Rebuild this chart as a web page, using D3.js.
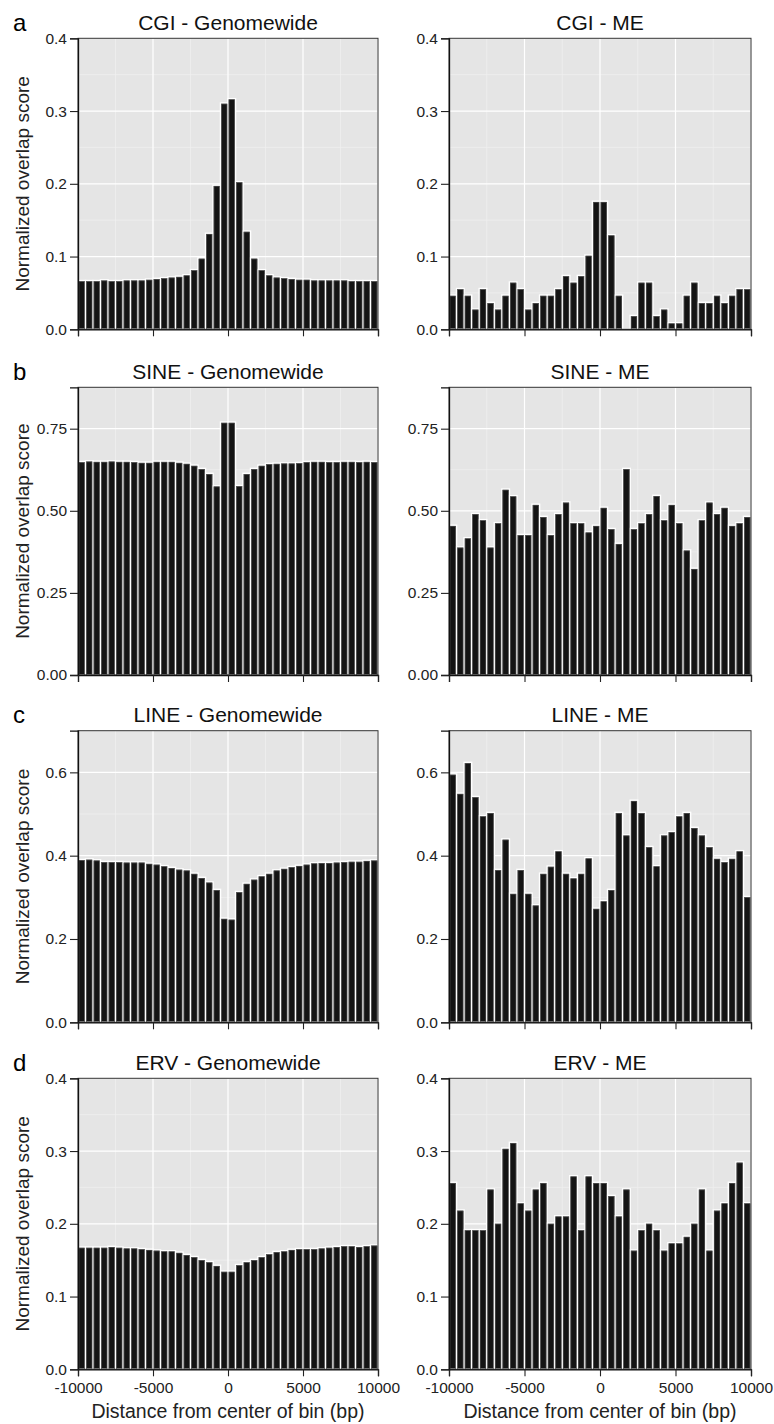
<!DOCTYPE html>
<html>
<head>
<meta charset="utf-8">
<script src="https://cdn.jsdelivr.net/npm/d3@7"></script>
<style>
  body{margin:0;background:#fff}
  svg{display:block}
  text{font-family:"Liberation Sans",Arial,Helvetica,sans-serif}
</style>
</head>
<body>
<svg id="fig" width="774" height="1424"></svg>
<script>
/* ---------- data ---------- */
const binStart=[-10000,-9500,-9000,-8500,-8000,-7500,-7000,-6500,-6000,-5500,
                -5000,-4500,-4000,-3500,-3000,-2500,-2000,-1500,-1000,-500,
                0,500,1000,1500,2000,2500,3000,3500,4000,4500,
                5000,5500,6000,6500,7000,7500,8000,8500,9000,9500];
const binWidth=500;
const xTicks=[-10000,-5000,0,5000,10000];

const cgiGenome=[0.067,0.067,0.067,0.068,0.067,0.067,0.068,0.068,0.068,0.069,
                 0.070,0.071,0.072,0.073,0.075,0.082,0.098,0.132,0.198,0.311,
                 0.317,0.203,0.135,0.098,0.082,0.075,0.072,0.071,0.070,0.069,
                 0.069,0.068,0.068,0.068,0.068,0.068,0.067,0.067,0.067,0.067];
const cgiME=[0.047,0.056,0.047,0.028,0.056,0.037,0.028,0.047,0.065,0.056,
             0.028,0.037,0.047,0.047,0.056,0.074,0.065,0.074,0.102,0.176,
             0.176,0.130,0.047,0.000,0.019,0.065,0.065,0.019,0.028,0.009,
             0.009,0.047,0.065,0.037,0.037,0.047,0.037,0.047,0.056,0.056];

const sineGenome=[0.650,0.652,0.651,0.651,0.652,0.651,0.651,0.650,0.648,0.648,
                  0.651,0.651,0.651,0.648,0.645,0.639,0.629,0.614,0.576,0.770,
                  0.770,0.577,0.614,0.629,0.639,0.644,0.645,0.646,0.646,0.647,
                  0.650,0.651,0.651,0.650,0.650,0.651,0.651,0.650,0.651,0.650];
const sineME=[0.456,0.390,0.418,0.492,0.473,0.390,0.464,0.566,0.546,0.428,
              0.428,0.520,0.483,0.428,0.492,0.527,0.464,0.464,0.436,0.456,
              0.511,0.446,0.401,0.629,0.446,0.464,0.492,0.547,0.473,0.520,
              0.464,0.381,0.325,0.473,0.527,0.492,0.511,0.456,0.464,0.483];

const lineGenome=[0.391,0.392,0.390,0.386,0.386,0.386,0.385,0.385,0.385,0.382,
                  0.380,0.376,0.372,0.368,0.366,0.358,0.348,0.337,0.319,0.250,
                  0.248,0.314,0.334,0.344,0.352,0.358,0.366,0.370,0.374,0.377,
                  0.380,0.383,0.384,0.384,0.385,0.386,0.387,0.387,0.389,0.390];
const lineME=[0.596,0.550,0.624,0.542,0.496,0.504,0.367,0.440,0.310,0.367,
              0.310,0.282,0.358,0.375,0.412,0.358,0.347,0.358,0.395,0.274,
              0.292,0.319,0.504,0.450,0.533,0.504,0.422,0.376,0.450,0.458,
              0.496,0.504,0.468,0.450,0.422,0.394,0.386,0.394,0.412,0.302];

const ervGenome=[0.168,0.168,0.168,0.168,0.169,0.168,0.167,0.167,0.166,0.165,
                 0.164,0.163,0.163,0.161,0.158,0.155,0.151,0.148,0.143,0.135,
                 0.135,0.144,0.148,0.151,0.155,0.159,0.162,0.163,0.165,0.166,
                 0.166,0.166,0.167,0.168,0.169,0.170,0.170,0.169,0.170,0.171];
const ervME=[0.257,0.219,0.192,0.192,0.192,0.248,0.201,0.304,0.312,0.229,
             0.219,0.248,0.257,0.201,0.211,0.211,0.266,0.192,0.266,0.257,
             0.257,0.239,0.211,0.248,0.164,0.192,0.201,0.192,0.164,0.174,
             0.174,0.183,0.201,0.248,0.164,0.219,0.229,0.257,0.285,0.229];

const cgiTicks=[0,0.1,0.2,0.3,0.4];
const sineTicks=[0,0.25,0.5,0.75];
const lineTicks=[0,0.2,0.4,0.6];
const ervTicks=[0,0.1,0.2,0.3,0.4];

/* ---------- layout ---------- */
const cols=[{x0:78,x1:378,kind:"Genomewide"},{x0:449,x1:751,kind:"ME"}];
const rows=[
  {letter:"a",name:"CGI", data:[cgiGenome,cgiME],  yMax:0.4,  ticks:cgiTicks, fmt:".1f",top:38.3, bot:329.3},
  {letter:"b",name:"SINE",data:[sineGenome,sineME],yMax:0.876,ticks:sineTicks,fmt:".2f",top:387.3,bot:675},
  {letter:"c",name:"LINE",data:[lineGenome,lineME],yMax:0.7,  ticks:lineTicks,fmt:".1f",top:730.7,bot:1022.3},
  {letter:"d",name:"ERV", data:[ervGenome,ervME],  yMax:0.4,  ticks:ervTicks, fmt:".1f",top:1078.3,bot:1369.3}
];

const svg=d3.select("#fig");

rows.forEach((r,ri)=>{
  // panel letter
  svg.append("text").attr("x",13).attr("y",r.top-7.5)
     .attr("font-size",24).attr("fill","#000").text(r.letter);

  cols.forEach((c,ci)=>{
    const x=d3.scaleLinear().domain([-10000,10000]).range([c.x0,c.x1]);
    const y=d3.scaleLinear().domain([0,r.yMax]).range([r.bot,r.top]);
    const g=svg.append("g");

    // background
    g.append("rect").attr("x",c.x0).attr("y",r.top)
     .attr("width",c.x1-c.x0).attr("height",r.bot-r.top).attr("fill","#e5e5e5");

    // minor grid
    const step=r.ticks[1]-r.ticks[0];
    const yMinor=[];
    for(let v=step/2; v<r.yMax; v+=step) yMinor.push(v);
    const xMinor=[-7500,-2500,2500,7500];
    g.selectAll(".ymin").data(yMinor).join("line")
     .attr("x1",c.x0).attr("x2",c.x1).attr("y1",d=>y(d)).attr("y2",d=>y(d))
     .attr("stroke","#f2f2f2").attr("stroke-width",0.6);
    g.selectAll(".xmin").data(xMinor).join("line")
     .attr("y1",r.top).attr("y2",r.bot).attr("x1",d=>x(d)).attr("x2",d=>x(d))
     .attr("stroke","#f2f2f2").attr("stroke-width",0.6);
    // major grid
    g.selectAll(".ymaj").data(r.ticks).join("line")
     .attr("x1",c.x0).attr("x2",c.x1).attr("y1",d=>y(d)).attr("y2",d=>y(d))
     .attr("stroke","#fff").attr("stroke-width",1.2);
    g.selectAll(".xmaj").data(xTicks).join("line")
     .attr("y1",r.top).attr("y2",r.bot).attr("x1",d=>x(d)).attr("x2",d=>x(d))
     .attr("stroke","#fff").attr("stroke-width",1.2);

    // bars
    const vals=r.data[ci].map((v,i)=>({s:binStart[i],v}));
    const bars=vals.filter(d=>d.v>0);
    g.selectAll(".bar").data(bars).join("rect")
     .attr("x",d=>x(d.s)).attr("width",d=>x(d.s+binWidth)-x(d.s))
     .attr("y",d=>y(d.v)).attr("height",d=>y(0)-y(d.v))
     .attr("fill","#141414").attr("stroke","#fff").attr("stroke-width",1.5);
    g.selectAll(".edge").data(bars).join("rect")
     .attr("x",d=>x(d.s)+1).attr("width",d=>x(d.s+binWidth)-x(d.s)-2)
     .attr("y",d=>y(d.v)+1).attr("height",d=>Math.max(0,y(0)-y(d.v)-1))
     .attr("fill","none").attr("stroke","#555").attr("stroke-width",0.7);

    // frame
    g.append("rect").attr("x",c.x0).attr("y",r.top)
     .attr("width",c.x1-c.x0).attr("height",r.bot-r.top)
     .attr("fill","none").attr("stroke","#333").attr("stroke-width",1);

    // y axis
    const ya=g.append("g").attr("transform",`translate(${c.x0},0)`)
      .call(d3.axisLeft(y).tickValues(r.ticks).tickFormat(d3.format(r.fmt))
            .tickSize(8).tickPadding(3));
    ya.select(".domain").attr("stroke","#111").attr("stroke-width",1.3);
    ya.selectAll(".tick line").attr("stroke","#222").attr("stroke-width",1.1);
    ya.selectAll(".tick text").attr("font-size",15.5).attr("fill","#222")
      .attr("font-family",null);

    // x axis
    const xa=g.append("g").attr("transform",`translate(0,${r.bot})`)
      .call(d3.axisBottom(x).tickValues(xTicks).tickFormat(d=>String(d))
            .tickSize(7).tickPadding(6));
    xa.select(".domain").attr("stroke","#111").attr("stroke-width",1.3);
    xa.selectAll(".tick line").attr("stroke","#222").attr("stroke-width",1.1);
    xa.selectAll(".tick text").attr("font-size",15.5).attr("fill","#222")
      .attr("font-family",null);
    if(ri<rows.length-1) xa.selectAll(".tick text").remove();

    // title
    svg.append("text").attr("x",(c.x0+c.x1)/2).attr("y",r.top-8.5)
       .attr("text-anchor","middle").attr("font-size",21).attr("fill","#111")
       .text(`${r.name} - ${c.kind}`);

    // y label (left column only)
    if(ci===0){
      svg.append("text")
         .attr("transform",`translate(29,${(r.top+r.bot)/2}) rotate(-90)`)
         .attr("text-anchor","middle").attr("font-size",19).attr("fill","#222")
         .text("Normalized overlap score");
    }
    // x label (bottom row only)
    if(ri===rows.length-1){
      svg.append("text").attr("x",(c.x0+c.x1)/2).attr("y",1418)
         .attr("text-anchor","middle").attr("font-size",19.5).attr("fill","#222")
         .text("Distance from center of bin (bp)");
    }
  });
});
</script>
</body>
</html>
